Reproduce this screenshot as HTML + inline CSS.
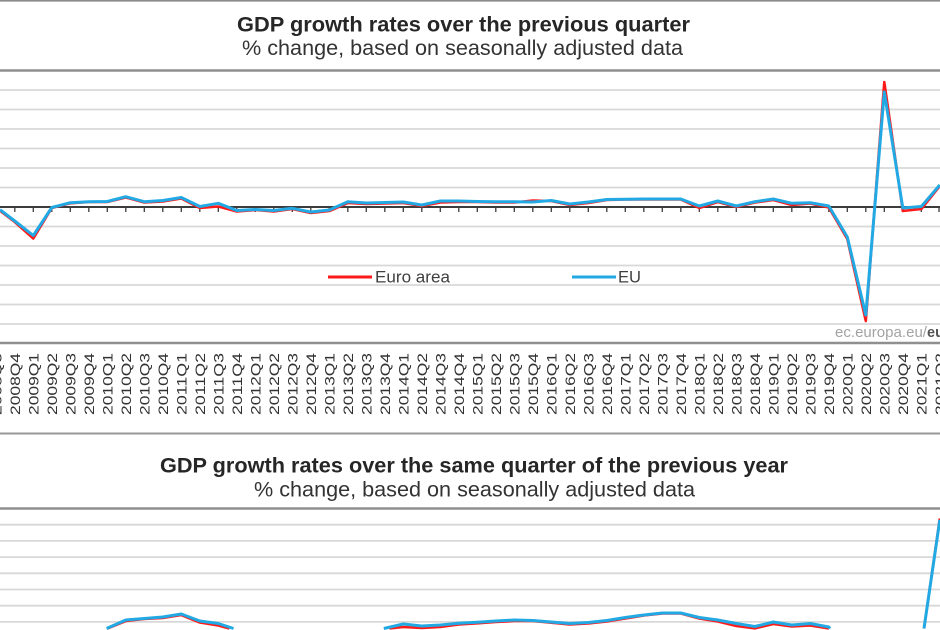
<!DOCTYPE html>
<html><head><meta charset="utf-8"><style>
html,body{margin:0;padding:0;background:#fff;width:940px;height:630px;overflow:hidden;}
svg{display:block;overflow:hidden;font-family:"Liberation Sans",Arial,sans-serif;}
</style></head><body>
<svg width="940" height="630" viewBox="0 0 940 630" xmlns="http://www.w3.org/2000/svg">
<defs><clipPath id="c"><rect x="0" y="0" width="940" height="630"/></clipPath></defs>
<g clip-path="url(#c)">
<rect x="0" y="0" width="940" height="630" fill="#fff"/>
<rect x="0" y="0" width="940" height="1.6" fill="#8a8a8a"/>
<text x="237" y="31.5" font-size="21" font-weight="bold" fill="#262626" textLength="453" lengthAdjust="spacingAndGlyphs">GDP growth rates over the previous quarter</text>
<text x="242" y="55" font-size="21" fill="#333" textLength="441" lengthAdjust="spacingAndGlyphs">% change, based on seasonally adjusted data</text>
<g stroke="#d8d8d8" stroke-width="1.8">
<line x1="0" y1="90" x2="940" y2="90"/><line x1="0" y1="109.5" x2="940" y2="109.5"/><line x1="0" y1="129" x2="940" y2="129"/><line x1="0" y1="148.5" x2="940" y2="148.5"/><line x1="0" y1="168" x2="940" y2="168"/><line x1="0" y1="187.5" x2="940" y2="187.5"/><line x1="0" y1="226.5" x2="940" y2="226.5"/><line x1="0" y1="246" x2="940" y2="246"/><line x1="0" y1="265.5" x2="940" y2="265.5"/><line x1="0" y1="285" x2="940" y2="285"/><line x1="0" y1="304.5" x2="940" y2="304.5"/><line x1="0" y1="324" x2="940" y2="324"/>
</g>
<line x1="0" y1="70.5" x2="940" y2="70.5" stroke="#8f8f8f" stroke-width="2.4"/>
<line x1="0" y1="343" x2="940" y2="343" stroke="#8f8f8f" stroke-width="2.4"/>
<line x1="0" y1="433.5" x2="940" y2="433.5" stroke="#999" stroke-width="2"/>
<line x1="0" y1="207" x2="940" y2="207" stroke="#3c3c3c" stroke-width="2"/>
<path d="M14.8 207v5M33.3 207v5M51.8 207v5M70.3 207v5M88.8 207v5M107.3 207v5M125.8 207v5M144.3 207v5M162.8 207v5M181.3 207v5M199.8 207v5M218.3 207v5M236.8 207v5M255.3 207v5M273.8 207v5M292.3 207v5M310.8 207v5M329.3 207v5M347.8 207v5M366.3 207v5M384.8 207v5M403.3 207v5M421.8 207v5M440.3 207v5M458.8 207v5M477.3 207v5M495.8 207v5M514.3 207v5M532.8 207v5M551.3 207v5M569.8 207v5M588.3 207v5M606.8 207v5M625.3 207v5M643.8 207v5M662.3 207v5M680.8 207v5M699.3 207v5M717.8 207v5M736.3 207v5M754.8 207v5M773.3 207v5M791.8 207v5M810.3 207v5M828.8 207v5M847.3 207v5M865.8 207v5M884.3 207v5M902.8 207v5M921.3 207v5M939 207v5" stroke="#3c3c3c" stroke-width="1.3" fill="none"/>
<polyline fill="none" stroke="#ff1a1a" stroke-width="2.6" stroke-linejoin="round" points="0,210.7 14.8,222 33.3,238.5 51.8,208 70.3,203.3 88.8,202 107.3,202 125.8,197.5 144.3,202.5 162.8,201.5 181.3,198.5 199.8,208 218.3,206.5 236.8,211.5 255.3,210 273.8,211.5 292.3,209 310.8,213 329.3,211 347.8,203 366.3,204 384.8,203.5 403.3,203 421.8,206 440.3,202.5 458.8,202 477.3,202 495.8,202.5 514.3,202.5 532.8,200.5 551.3,201 569.8,205 588.3,203 606.8,200 625.3,199.5 643.8,199.5 662.3,199.5 680.8,199.5 699.3,208 717.8,202 736.3,207 754.8,202.5 773.3,200 791.8,205 810.3,203.5 828.8,207.5 847.3,239 865.8,321 884.3,82 902.8,211 921.3,209 939.8,186"/>
<polyline fill="none" stroke="#22a9e4" stroke-width="3" stroke-linejoin="round" points="0,209.7 14.8,221 33.3,235.5 51.8,207.5 70.3,202.7 88.8,201.7 107.3,201.5 125.8,196.7 144.3,201.7 162.8,200.5 181.3,197.5 199.8,206.5 218.3,203.3 236.8,210.5 255.3,209.5 273.8,210.5 292.3,208.3 310.8,212 329.3,210 347.8,201.7 366.3,203 384.8,202.5 403.3,202 421.8,205 440.3,201 458.8,201 477.3,201.5 495.8,201.7 514.3,201.7 532.8,202 551.3,200.5 569.8,204 588.3,202 606.8,199.5 625.3,199.3 643.8,199 662.3,199 680.8,199 699.3,206 717.8,201 736.3,206 754.8,201.7 773.3,199 791.8,203.3 810.3,202.7 828.8,206 847.3,237 865.8,315 884.3,92 902.8,208 921.3,206.5 939.8,185"/>
<line x1="328" y1="277" x2="372" y2="277" stroke="#ff1a1a" stroke-width="3"/>
<text x="375" y="282.5" font-size="17" fill="#404040" textLength="75" lengthAdjust="spacingAndGlyphs">Euro area</text>
<line x1="572" y1="277" x2="616" y2="277" stroke="#22a9e4" stroke-width="3"/>
<text x="618" y="282.5" font-size="17" fill="#404040" textLength="23" lengthAdjust="spacingAndGlyphs">EU</text>
<text x="835" y="337" font-size="14.5" fill="#a3a3a3" textLength="92" lengthAdjust="spacingAndGlyphs">ec.europa.eu/</text>
<text x="927" y="337" font-size="14.5" font-weight="bold" fill="#555">eurostat</text>
<g font-size="14" fill="#333" text-anchor="end">
<text transform="translate(1.3,353) rotate(-90)" textLength="62" lengthAdjust="spacingAndGlyphs">2008Q3</text>
<text transform="translate(19.8,353) rotate(-90)" textLength="62" lengthAdjust="spacingAndGlyphs">2008Q4</text>
<text transform="translate(38.3,353) rotate(-90)" textLength="62" lengthAdjust="spacingAndGlyphs">2009Q1</text>
<text transform="translate(56.8,353) rotate(-90)" textLength="62" lengthAdjust="spacingAndGlyphs">2009Q2</text>
<text transform="translate(75.3,353) rotate(-90)" textLength="62" lengthAdjust="spacingAndGlyphs">2009Q3</text>
<text transform="translate(93.8,353) rotate(-90)" textLength="62" lengthAdjust="spacingAndGlyphs">2009Q4</text>
<text transform="translate(112.3,353) rotate(-90)" textLength="62" lengthAdjust="spacingAndGlyphs">2010Q1</text>
<text transform="translate(130.8,353) rotate(-90)" textLength="62" lengthAdjust="spacingAndGlyphs">2010Q2</text>
<text transform="translate(149.3,353) rotate(-90)" textLength="62" lengthAdjust="spacingAndGlyphs">2010Q3</text>
<text transform="translate(167.8,353) rotate(-90)" textLength="62" lengthAdjust="spacingAndGlyphs">2010Q4</text>
<text transform="translate(186.3,353) rotate(-90)" textLength="62" lengthAdjust="spacingAndGlyphs">2011Q1</text>
<text transform="translate(204.8,353) rotate(-90)" textLength="62" lengthAdjust="spacingAndGlyphs">2011Q2</text>
<text transform="translate(223.3,353) rotate(-90)" textLength="62" lengthAdjust="spacingAndGlyphs">2011Q3</text>
<text transform="translate(241.8,353) rotate(-90)" textLength="62" lengthAdjust="spacingAndGlyphs">2011Q4</text>
<text transform="translate(260.3,353) rotate(-90)" textLength="62" lengthAdjust="spacingAndGlyphs">2012Q1</text>
<text transform="translate(278.8,353) rotate(-90)" textLength="62" lengthAdjust="spacingAndGlyphs">2012Q2</text>
<text transform="translate(297.3,353) rotate(-90)" textLength="62" lengthAdjust="spacingAndGlyphs">2012Q3</text>
<text transform="translate(315.8,353) rotate(-90)" textLength="62" lengthAdjust="spacingAndGlyphs">2012Q4</text>
<text transform="translate(334.3,353) rotate(-90)" textLength="62" lengthAdjust="spacingAndGlyphs">2013Q1</text>
<text transform="translate(352.8,353) rotate(-90)" textLength="62" lengthAdjust="spacingAndGlyphs">2013Q2</text>
<text transform="translate(371.3,353) rotate(-90)" textLength="62" lengthAdjust="spacingAndGlyphs">2013Q3</text>
<text transform="translate(389.8,353) rotate(-90)" textLength="62" lengthAdjust="spacingAndGlyphs">2013Q4</text>
<text transform="translate(408.3,353) rotate(-90)" textLength="62" lengthAdjust="spacingAndGlyphs">2014Q1</text>
<text transform="translate(426.8,353) rotate(-90)" textLength="62" lengthAdjust="spacingAndGlyphs">2014Q2</text>
<text transform="translate(445.3,353) rotate(-90)" textLength="62" lengthAdjust="spacingAndGlyphs">2014Q3</text>
<text transform="translate(463.8,353) rotate(-90)" textLength="62" lengthAdjust="spacingAndGlyphs">2014Q4</text>
<text transform="translate(482.3,353) rotate(-90)" textLength="62" lengthAdjust="spacingAndGlyphs">2015Q1</text>
<text transform="translate(500.8,353) rotate(-90)" textLength="62" lengthAdjust="spacingAndGlyphs">2015Q2</text>
<text transform="translate(519.3,353) rotate(-90)" textLength="62" lengthAdjust="spacingAndGlyphs">2015Q3</text>
<text transform="translate(537.8,353) rotate(-90)" textLength="62" lengthAdjust="spacingAndGlyphs">2015Q4</text>
<text transform="translate(556.3,353) rotate(-90)" textLength="62" lengthAdjust="spacingAndGlyphs">2016Q1</text>
<text transform="translate(574.8,353) rotate(-90)" textLength="62" lengthAdjust="spacingAndGlyphs">2016Q2</text>
<text transform="translate(593.3,353) rotate(-90)" textLength="62" lengthAdjust="spacingAndGlyphs">2016Q3</text>
<text transform="translate(611.8,353) rotate(-90)" textLength="62" lengthAdjust="spacingAndGlyphs">2016Q4</text>
<text transform="translate(630.3,353) rotate(-90)" textLength="62" lengthAdjust="spacingAndGlyphs">2017Q1</text>
<text transform="translate(648.8,353) rotate(-90)" textLength="62" lengthAdjust="spacingAndGlyphs">2017Q2</text>
<text transform="translate(667.3,353) rotate(-90)" textLength="62" lengthAdjust="spacingAndGlyphs">2017Q3</text>
<text transform="translate(685.8,353) rotate(-90)" textLength="62" lengthAdjust="spacingAndGlyphs">2017Q4</text>
<text transform="translate(704.3,353) rotate(-90)" textLength="62" lengthAdjust="spacingAndGlyphs">2018Q1</text>
<text transform="translate(722.8,353) rotate(-90)" textLength="62" lengthAdjust="spacingAndGlyphs">2018Q2</text>
<text transform="translate(741.3,353) rotate(-90)" textLength="62" lengthAdjust="spacingAndGlyphs">2018Q3</text>
<text transform="translate(759.8,353) rotate(-90)" textLength="62" lengthAdjust="spacingAndGlyphs">2018Q4</text>
<text transform="translate(778.3,353) rotate(-90)" textLength="62" lengthAdjust="spacingAndGlyphs">2019Q1</text>
<text transform="translate(796.8,353) rotate(-90)" textLength="62" lengthAdjust="spacingAndGlyphs">2019Q2</text>
<text transform="translate(815.3,353) rotate(-90)" textLength="62" lengthAdjust="spacingAndGlyphs">2019Q3</text>
<text transform="translate(833.8,353) rotate(-90)" textLength="62" lengthAdjust="spacingAndGlyphs">2019Q4</text>
<text transform="translate(852.3,353) rotate(-90)" textLength="62" lengthAdjust="spacingAndGlyphs">2020Q1</text>
<text transform="translate(870.8,353) rotate(-90)" textLength="62" lengthAdjust="spacingAndGlyphs">2020Q2</text>
<text transform="translate(889.3,353) rotate(-90)" textLength="62" lengthAdjust="spacingAndGlyphs">2020Q3</text>
<text transform="translate(907.8,353) rotate(-90)" textLength="62" lengthAdjust="spacingAndGlyphs">2020Q4</text>
<text transform="translate(926.3,353) rotate(-90)" textLength="62" lengthAdjust="spacingAndGlyphs">2021Q1</text>
<text transform="translate(944.8,353) rotate(-90)" textLength="62" lengthAdjust="spacingAndGlyphs">2021Q2</text>
</g>
<text x="160" y="472.5" font-size="21" font-weight="bold" fill="#262626" textLength="628" lengthAdjust="spacingAndGlyphs">GDP growth rates over the same quarter of the previous year</text>
<text x="254" y="496.5" font-size="21" fill="#333" textLength="441" lengthAdjust="spacingAndGlyphs">% change, based on seasonally adjusted data</text>
<g stroke="#d8d8d8" stroke-width="1.8">
<line x1="0" y1="524.7" x2="940" y2="524.7"/><line x1="0" y1="540.9" x2="940" y2="540.9"/><line x1="0" y1="557.1" x2="940" y2="557.1"/><line x1="0" y1="573.3" x2="940" y2="573.3"/><line x1="0" y1="589.5" x2="940" y2="589.5"/><line x1="0" y1="605.7" x2="940" y2="605.7"/><line x1="0" y1="621.9" x2="940" y2="621.9"/>
</g>
<line x1="0" y1="508.5" x2="940" y2="508.5" stroke="#8f8f8f" stroke-width="2.4"/>
<polyline fill="none" stroke="#ff1a1a" stroke-width="2.6" stroke-linejoin="round" points="107.3,628.5 125.8,621 144.3,619 162.8,618 181.3,615 199.8,622.5 218.3,625.5 229.4,628.5"/>
<polyline fill="none" stroke="#ff1a1a" stroke-width="2.6" stroke-linejoin="round" points="389.4,628.5 403.3,627 421.8,628 440.3,627 458.8,624.5 477.3,623.3 495.8,622 514.3,621 532.8,621 551.3,622.7 569.8,624.5 588.3,623.5 606.8,621.5 625.3,618.5 643.8,615.5 662.3,613.5 680.8,613.5 699.3,618.5 717.8,621.5 736.3,626 754.8,628.3 773.3,624 791.8,626.5 810.3,625.5 829,628.5"/>
<polyline fill="none" stroke="#ff1a1a" stroke-width="2.6" stroke-linejoin="round" points="924,628.5 939.8,518.5"/>
<polyline fill="none" stroke="#22a9e4" stroke-width="3" stroke-linejoin="round" points="106.6,628.5 125.8,620 144.3,618.5 162.8,617 181.3,614 199.8,621 218.3,623.5 233.5,628.5"/>
<polyline fill="none" stroke="#22a9e4" stroke-width="3" stroke-linejoin="round" points="383.8,628.5 403.3,624 421.8,626 440.3,625 458.8,623.3 477.3,622.3 495.8,621 514.3,620 532.8,620.5 551.3,622 569.8,623.5 588.3,622.5 606.8,620.5 625.3,617.5 643.8,615 662.3,613 680.8,613 699.3,617.5 717.8,620 736.3,623.5 754.8,626.5 773.3,622 791.8,625 810.3,623.5 828.8,627 830,628.5"/>
<polyline fill="none" stroke="#22a9e4" stroke-width="3" stroke-linejoin="round" points="924,628.5 939.8,520"/>
</g>
</svg>
</body></html>
